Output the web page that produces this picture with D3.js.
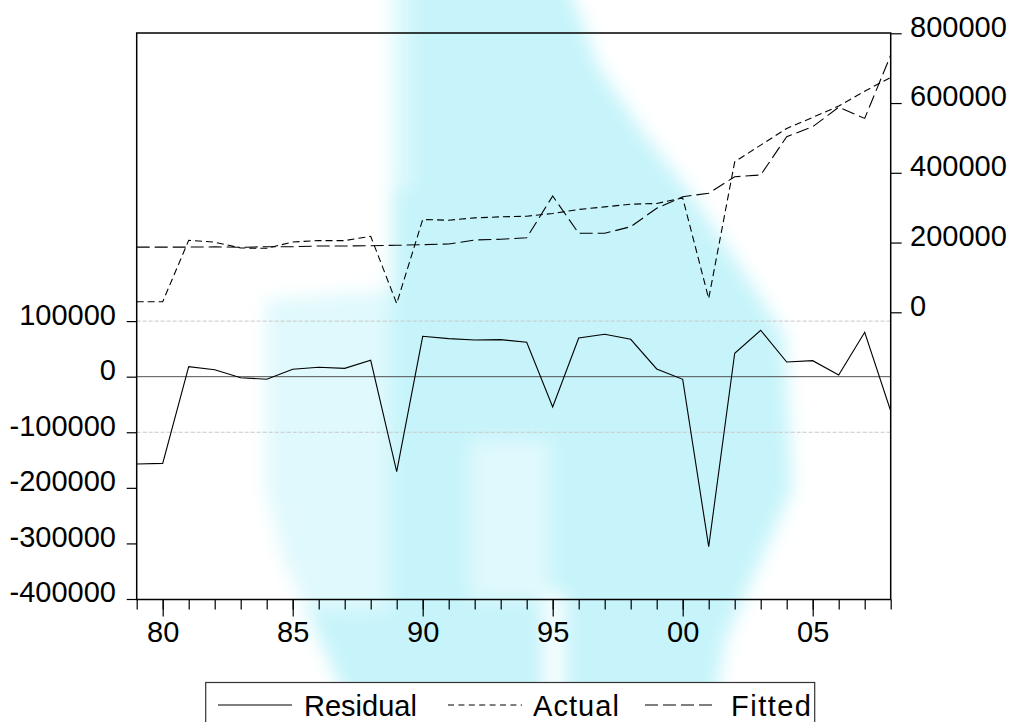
<!DOCTYPE html>
<html>
<head>
<meta charset="utf-8">
<script src="https://cdn.jsdelivr.net/npm/d3@7/dist/d3.min.js"></script>
<style>
  html, body { margin: 0; padding: 0; background: #ffffff; }
  svg { display: block; }
  text { font-family: "Liberation Sans", Arial, sans-serif; }
</style>
</head>
<body>
<svg id="chart" width="1010" height="722"></svg>
<script>
// ---- data ----
const years = [1979,1980,1981,1982,1983,1984,1985,1986,1987,1988,1989,1990,1991,1992,1993,1994,1995,1996,1997,1998,1999,2000,2001,2002,2003,2004,2005,2006,2007,2008];
const residual = [-157000,-156000,18000,12600,-1800,-4700,13300,17000,15000,29500,-171000,72700,68400,66000,66600,61900,-54500,69600,76300,67300,13900,-4700,-305900,42100,83500,26400,28800,3000,79900,-61700];
const actual = [30400,30400,206400,201000,184400,183500,201600,205600,205600,218000,25000,266000,264100,270800,273700,275600,283300,294800,302300,310000,312000,328000,39300,431500,479400,527200,559000,591300,634000,673600];
const fitted = [187000,187000,187000,187500,186500,188000,188000,190100,190100,191000,192100,193900,195800,207300,209300,213900,333500,226500,226500,245500,298200,331500,341200,388800,393700,503500,532200,588000,556000,737600];
const xMajorYears = [1980,1985,1990,1995,2000,2005];
const xMajorLabels = ["80","85","90","95","00","05"];
const leftTicks = [-400000,-300000,-200000,-100000,0,100000];
const rightTicks = [0,200000,400000,600000,800000];
const gridValues = [-100000,100000];
const legendNames = ["Residual","Actual","Fitted"];

// ---- layout ----
const L = 136.7, R = 890.7, T = 33, B = 599.5;
const FONT = 29;

const svg = d3.select("#chart");

// ---- background watermark (blurred light cyan shape) ----
const wm = svg.append("g").style("filter","blur(9px)");
wm.append("path")
  .attr("d","M392,-30 L562,-30 L600,70 L645,135 L695,200 L740,267 L784,335 L792,490 L760,561 L725,640 L705,760 L372,760 L338,680 L284,561 L266,490 L266,300 L392,290 Z")
  .attr("fill","#c6f4fa");
wm.append("rect").attr("x",256).attr("y",290).attr("width",134).attr("height",320).attr("fill","#ffffff").attr("opacity",0.45);
wm.append("rect").attr("x",386).attr("y",-30).attr("width",28).attr("height",220).attr("fill","#ffffff").attr("opacity",0.35);
wm.append("rect").attr("x",470).attr("y",440).attr("width",80).attr("height",160).attr("fill","#ffffff").attr("opacity",0.45);
wm.append("rect").attr("x",543).attr("y",592).attr("width",22).attr("height",160).attr("fill","#ffffff").attr("opacity",0.9);
wm.append("rect").attr("x",590).attr("y",-30).attr("width",140).attr("height",70).attr("fill","#ffffff").attr("opacity",0.3);

// ---- scales ----
const x = d3.scaleLinear().domain([1979, 2008]).range([L, R]);
const yL = d3.scaleLinear().domain([-400000, 100000]).range([599.0, 321.1]);
const yR = d3.scaleLinear().domain([0, 800000]).range([312.3, 33.3]);

// ---- gridlines and zero line ----
svg.append("g").selectAll("line").data(gridValues).join("line")
  .attr("x1", L).attr("x2", R)
  .attr("y1", d => yL(d)).attr("y2", d => yL(d))
  .attr("stroke", "#c8c8c8").attr("stroke-width", 1).attr("stroke-dasharray", "4,2");
svg.append("line")
  .attr("x1", L).attr("x2", R).attr("y1", yL(0)).attr("y2", yL(0))
  .attr("stroke", "#505050").attr("stroke-width", 1);

// ---- series ----
const lineR = d3.line().x((d,i) => x(years[i])).y(d => yL(d));
const lineA = d3.line().x((d,i) => x(years[i])).y(d => yR(d));
svg.append("path").datum(fitted).attr("d", lineA)
  .attr("fill","none").attr("stroke","#000").attr("stroke-width",1.1).attr("stroke-dasharray","13,5");
svg.append("path").datum(actual).attr("d", lineA)
  .attr("fill","none").attr("stroke","#000").attr("stroke-width",1.1).attr("stroke-dasharray","7,4");
svg.append("path").datum(residual).attr("d", lineR)
  .attr("fill","none").attr("stroke","#000").attr("stroke-width",1.1);

// ---- axes ----
const styleAxis = g => {
  g.select(".domain").remove();
  g.selectAll(".tick line").attr("stroke","#000").attr("stroke-width",1.2);
  g.selectAll("text").attr("fill","#000").style("font-size", FONT + "px")
    .style("font-family", '"Liberation Sans", Arial, sans-serif');
};

const leftAxis = d3.axisLeft(yL).tickValues(leftTicks).tickSize(10).tickSizeOuter(0).tickPadding(10.7)
  .tickFormat(d => String(d));
svg.append("g").attr("transform", `translate(${L},0)`).call(leftAxis).call(styleAxis)
  .selectAll("text").attr("dy", "0.1em");

const rightAxis = d3.axisRight(yR).tickValues(rightTicks).tickSize(11).tickSizeOuter(0).tickPadding(8.3)
  .tickFormat(d => String(d));
svg.append("g").attr("transform", `translate(${R},0)`).call(rightAxis).call(styleAxis)
  .selectAll("text").attr("dy", "0.1em");

const minorAxis = d3.axisBottom(x).tickValues(years).tickSize(10).tickSizeOuter(0).tickFormat("");
svg.append("g").attr("transform", `translate(0,${B})`).call(minorAxis).call(styleAxis);

const majorAxis = d3.axisBottom(x).tickValues(xMajorYears).tickSize(17).tickSizeOuter(0).tickPadding(5)
  .tickFormat((d,i) => xMajorLabels[i]);
svg.append("g").attr("transform", `translate(0,${B})`).call(majorAxis).call(styleAxis);

// ---- frame ----
svg.append("rect").attr("x", L).attr("y", T).attr("width", R - L).attr("height", B - T)
  .attr("fill","none").attr("stroke","#000").attr("stroke-width",1.5);

// ---- legend ----
const lg = svg.append("g");
lg.append("rect").attr("x",205.7).attr("y",682.5).attr("width",609).attr("height",60)
  .attr("fill","#ffffff").attr("stroke","#333").attr("stroke-width",1.2);
const legItems = [
  {x1:218, x2:292, tx:304, dash:null, tl:null},
  {x1:448, x2:522, tx:533, dash:"6,4.4", tl:86},
  {x1:645, x2:716, tx:731, dash:"13,5", tl:80}
];
const legY = 705, legText = 715.5;
legItems.forEach((it, i) => {
  lg.append("line").attr("x1", it.x1).attr("x2", it.x2).attr("y1", legY).attr("y2", legY)
    .attr("stroke","#000").attr("stroke-width",1.1).attr("stroke-dasharray", it.dash);
  const t = lg.append("text").attr("x", it.tx).attr("y", legText).text(legendNames[i])
    .style("font-size", FONT + "px").attr("fill","#000");
  if (it.tl) t.attr("textLength", it.tl).attr("lengthAdjust","spacing");
});
</script>
</body>
</html>
